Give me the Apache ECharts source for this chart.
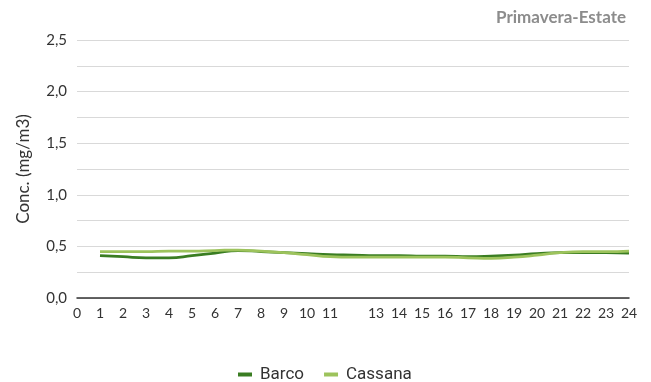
<!DOCTYPE html>
<html><head><meta charset="utf-8">
<script src="https://cdn.jsdelivr.net/npm/echarts@6/dist/echarts.min.js"></script>
<style>html,body{margin:0;padding:0;background:#fff}#c{width:651px;height:382px}</style>
</head><body><div id="c"></div>
<script>
const hours = [1,2,3,4,5,6,7,8,9,10,11,12,13,14,15,16,17,18,19,20,21,22,23,24];
const barco = [0.41,0.40,0.39,0.39,0.41,0.435,0.46,0.45,0.44,0.43,0.42,0.415,0.41,0.41,0.405,0.405,0.40,0.405,0.415,0.43,0.44,0.44,0.44,0.435];
const cassana = [0.45,0.45,0.45,0.455,0.455,0.46,0.465,0.455,0.44,0.42,0.40,0.395,0.395,0.395,0.395,0.395,0.39,0.385,0.395,0.415,0.44,0.45,0.45,0.455];
const xTickLabels = ['0','1','2','3','4','5','6','7','8','9','10','11','','13','14','15','16','17','18','19','20','21','22','23','24'];
const yTickLabels = ['0,0','','0,5','','1,0','','1,5','','2,0','','2,5'];
const title = 'Primavera-Estate';
const yName = 'Conc. (mg/m3)';

const chart = echarts.init(document.getElementById('c'), null, {renderer:'canvas'});
const font = 'Lato, "Open Sans", sans-serif';
chart.setOption({
  animation:false,
  title:{text:title,right:20,top:4,textStyle:{color:'#8c8c8c',fontSize:17,fontWeight:'bold',fontFamily:font}},
  grid:{left:77,right:22,top:40,bottom:84},
  legend:{top:361,left:233,icon:'rect',itemWidth:14,itemHeight:4,itemGap:20,
    textStyle:{fontFamily:'Roboto',fontSize:17,color:'#333',padding:[0,0,0,3]}},
  xAxis:{type:'value',min:0,max:24,interval:1,
    axisLine:{show:true,lineStyle:{color:'#333',width:1.5}},
    axisTick:{show:false},splitLine:{show:false},
    axisLabel:{color:'#333',fontSize:14,fontFamily:font,margin:8,
      formatter:v=>xTickLabels[Math.round(v)]}},
  yAxis:{type:'value',min:0,max:2.5,interval:0.25,
    name:yName,nameLocation:'middle',nameGap:45,
    nameTextStyle:{color:'#333',fontSize:17,fontFamily:font},
    axisLine:{show:false},axisTick:{show:false},
    splitLine:{lineStyle:{color:'#d9d9d9',width:1}},
    axisLabel:{color:'#333',fontSize:15,fontFamily:font,margin:10,
      formatter:v=>yTickLabels[Math.round(v/0.25)]}},
  series:[
    {name:'Barco',type:'line',smooth:true,showSymbol:false,
      data:hours.map((h,i)=>[h,barco[i]]),
      lineStyle:{color:'#3a7d22',width:2.75},itemStyle:{color:'#3a7d22'}},
    {name:'Cassana',type:'line',smooth:true,showSymbol:false,
      data:hours.map((h,i)=>[h,cassana[i]]),
      lineStyle:{color:'#9dc35c',width:2.75},itemStyle:{color:'#9dc35c'}}
  ]
});
</script></body></html>
